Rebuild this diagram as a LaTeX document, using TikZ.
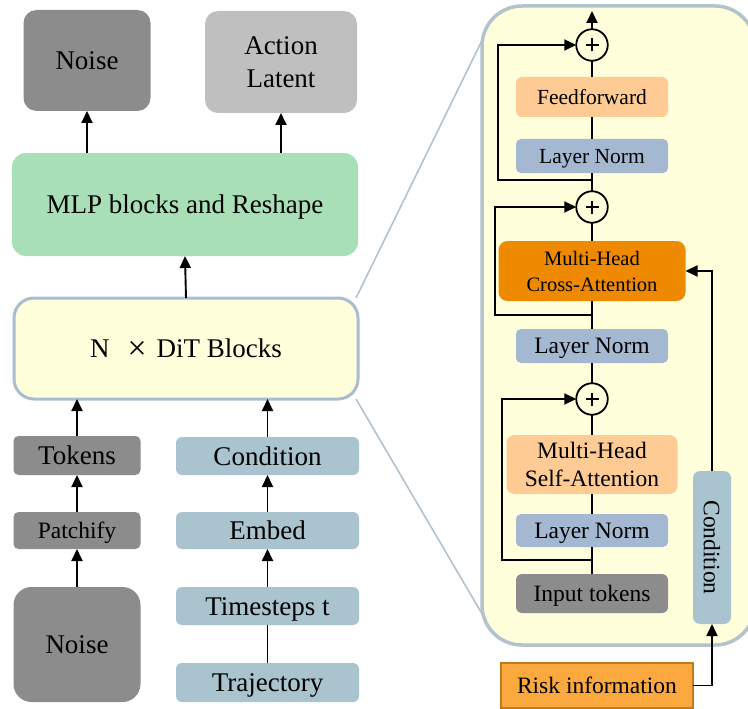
\documentclass[tikz,border=0pt]{standalone}
\usepackage{fontspec}
\setmainfont{Liberation Serif}
\usetikzlibrary{arrows.meta,calc}

\definecolor{cDark}{HTML}{8C8C8C}
\definecolor{cLight}{HTML}{BFBFBF}
\definecolor{cGreen}{HTML}{A9DFB6}
\definecolor{cYel}{HTML}{FFFFDC}
\definecolor{cBord}{HTML}{A9BCD2}
\definecolor{cPan}{HTML}{B2C2CE}
\definecolor{cCond}{HTML}{A9C3CF}
\definecolor{cLN}{HTML}{A4B8D1}
\definecolor{cFF}{HTML}{FDCB93}
\definecolor{cCA}{HTML}{EF8A00}
\definecolor{cRisk}{HTML}{FBA83F}
\definecolor{cRiskB}{HTML}{C27A1C}

\begin{document}
\begin{tikzpicture}[x=1pt,y=-1pt,
  box/.style={rectangle, rounded corners=#1, inner sep=0pt, outer sep=0pt, align=center, text=black},
  box/.default=6pt,
  bigf/.style={font=\fontsize{27}{33}\selectfont, text height=18pt, text depth=0pt},
  bigm/.style={font=\fontsize{27}{33}\selectfont},
  midf/.style={font=\fontsize{23.5}{28}\selectfont, text height=15.6pt, text depth=0pt},
  midm/.style={font=\fontsize{23.5}{28}\selectfont},
  smf/.style={font=\fontsize{21.5}{26}\selectfont, text height=14.3pt, text depth=0pt},
  cam/.style={font=\fontsize{20.5}{26}\selectfont},
  conn/.style={line width=1.9pt, draw=black},
  arr/.style={conn, -{Triangle[length=12pt,width=11pt]}},
  plusc/.style={circle, draw=black, line width=1.8pt, fill=cYel, minimum size=31.5pt, inner sep=0pt, outer sep=0pt,
    path picture={
      \draw[line width=1.4pt] ([xshift=-6.5pt]path picture bounding box.center) -- ([xshift=6.5pt]path picture bounding box.center);
      \draw[line width=1.4pt] ([yshift=-6.5pt]path picture bounding box.center) -- ([yshift=6.5pt]path picture bounding box.center);
    }},
  link/.style={draw=cPan, line width=1.6pt}
]
\useasboundingbox (0,0) rectangle (748,709);

% ---------- left side ----------
\node[box=13pt, fill=cDark, minimum width=127pt, minimum height=101pt, bigf] (noiseT) at (87,60.5) {Noise};
\node[box=13pt, fill=cLight, minimum width=152pt, minimum height=102pt, bigm] (action) at (281,62) {Action\\Latent};
\node[box=14pt, fill=cGreen, minimum width=346pt, minimum height=103pt, bigf] (mlp) at (185,204.5) {MLP blocks and Reshape};
\node[box=20pt, fill=cYel, draw=cBord, line width=3pt, minimum width=344pt, minimum height=101pt, bigf] (dit) at (186,348.5) {N\hspace{18pt}\raisebox{-1.8pt}{\scalebox{1.25}{×}}\hspace{10pt}DiT Blocks};

\node[box=5pt, fill=cDark, minimum width=127pt, minimum height=39pt, bigf] (tokens) at (77,455.5) {Tokens};
\node[box=5pt, fill=cDark, minimum width=127pt, minimum height=37pt, midf] (patch) at (77,530.5) {Patchify};
\node[box=18pt, fill=cDark, minimum width=127pt, minimum height=115pt, bigf] (noiseB) at (77,644.5) {Noise};

\node[box=6pt, fill=cCond, minimum width=183pt, minimum height=38pt, bigf] (cond) at (267.5,456) {Condition};
\node[box=6pt, fill=cCond, minimum width=183pt, minimum height=37pt, bigf] (embed) at (267.5,530.5) {Embed};
\node[box=6pt, fill=cCond, minimum width=183pt, minimum height=38pt, bigf] (time) at (267.5,606) {Timesteps t};
\node[box=6pt, fill=cCond, minimum width=183pt, minimum height=39pt, bigf] (traj) at (267.5,682.5) {Trajectory};

\draw[arr] (noiseT.south |- mlp.north) -- (noiseT.south);
\draw[arr] (action.south |- mlp.north) -- (action.south);
\draw[arr] (dit.north) -- (mlp.south);
\draw[arr] (tokens.north) -- (tokens.north |- dit.south);
\draw[arr] (cond.north) -- (cond.north |- dit.south);
\draw[arr] (patch.north) -- (tokens.south);
\draw[arr] (noiseB.north) -- (patch.south);
\draw[arr] (embed.north) -- (cond.south);
\draw[arr] (time.north) -- (embed.south);
\draw[conn] (traj.north) -- (time.south);

% ---------- links to the zoomed panel ----------
\coordinate (pt) at (490,24);
\coordinate (pb) at (488,624);
\coordinate (dtr) at (356,298);
\coordinate (dbr) at (356,399);
\draw[link] (dtr) -- (pt);
\draw[link] (dbr) -- (pb);

% ---------- right panel ----------
\node[box=40pt, fill=cYel, draw=cPan, line width=3.5pt, minimum width=273pt, minimum height=639pt] (panel) at (618.5,325.5) {};

\node[plusc] (plus1) at (592,45) {};
\node[box=6pt, fill=cFF, minimum width=152pt, minimum height=40pt, smf] (ff) at (592,97) {Feedforward};
\node[box=5pt, fill=cLN, minimum width=152pt, minimum height=34pt, smf] (ln1) at (592,156) {Layer Norm};
\node[plusc] (plus2) at (592,207) {};
\node[box=9pt, fill=cCA, minimum width=187pt, minimum height=60pt, cam] (ca) at (592,271) {Multi-Head\\Cross-Attention};
\node[box=5pt, fill=cLN, minimum width=152pt, minimum height=34pt, midf] (ln2) at (592,346) {Layer Norm};
\node[plusc] (plus3) at (592,399) {};
\node[box=8pt, fill=cFF, minimum width=171pt, minimum height=59pt, midm] (sa) at (592,464.5) {Multi-Head\\Self-Attention};
\node[box=5pt, fill=cLN, minimum width=152pt, minimum height=33pt, midf] (ln3) at (592,530.5) {Layer Norm};
\node[box=6pt, fill=cDark, minimum width=152pt, minimum height=39pt, midf] (inp) at (592,593.5) {Input tokens};
\node[box=7pt, fill=cCond, minimum width=38pt, minimum height=153pt, midm] (condv) at (712,547.5) {\rotatebox{-90}{Condition}};
\node[box=0pt, fill=cRisk, draw=cRiskB, line width=1.5pt, minimum width=192pt, minimum height=45pt, midf] (risk) at (597,685.5) {Risk information};

% main vertical path
\draw[conn] (inp.north) -- (ln3.south);
\draw[conn] (ln3.north) -- (sa.south);
\draw[conn] (sa.north) -- (plus3.south);
\draw[conn] (plus3.north) -- (ln2.south);
\draw[conn] (ln2.north) -- (ca.south);
\draw[conn] (ca.north) -- (plus2.south);
\draw[conn] (plus2.north) -- (ln1.south);
\draw[conn] (ln1.north) -- (ff.south);
\draw[conn] (ff.north) -- (plus1.south);
\coordinate (outtop) at (592,11);
\draw[arr] (plus1.north) -- (outtop);

% residual skips
\coordinate (j1) at (592,180);
\coordinate (k1) at (498,180);
\coordinate (j2) at (592,315);
\coordinate (k2) at (495,315);
\coordinate (j3) at (592,560);
\coordinate (k3) at (502,560);
\draw[arr] (j1) -- (k1) |- (plus1.west);
\draw[arr] (j2) -- (k2) |- (plus2.west);
\draw[arr] (j3) -- (k3) |- (plus3.west);

% condition paths
\draw[arr] (condv.north) |- (ca.east);
\draw[arr] (risk.east) -| (condv.south);
\end{tikzpicture}
\end{document}
